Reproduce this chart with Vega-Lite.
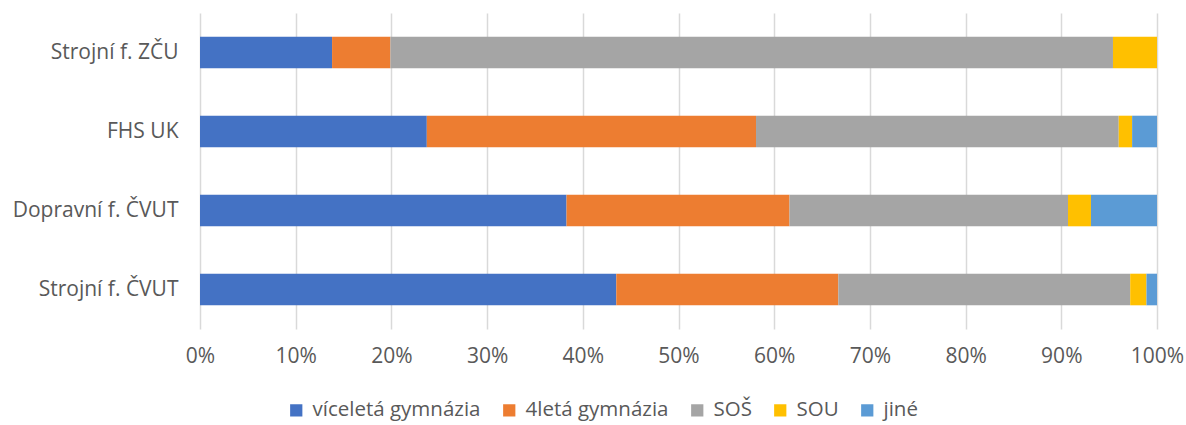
{
  "$schema": "https://vega.github.io/schema/vega-lite/v6.json",
  "width": 957,
  "height": 316,
  "autosize": "none",
  "padding": {"left": 200, "top": 13, "right": 29, "bottom": 96},
  "background": "white",
  "data": {
    "values": [
      {"fakulta": "Strojní f. ZČU", "typ": "víceletá gymnázia", "k": 1, "v": 13.8},
      {"fakulta": "Strojní f. ZČU", "typ": "4letá gymnázia", "k": 2, "v": 6.1},
      {"fakulta": "Strojní f. ZČU", "typ": "SOŠ", "k": 3, "v": 75.5},
      {"fakulta": "Strojní f. ZČU", "typ": "SOU", "k": 4, "v": 4.6},
      {"fakulta": "Strojní f. ZČU", "typ": "jiné", "k": 5, "v": 0},
      {"fakulta": "FHS UK", "typ": "víceletá gymnázia", "k": 1, "v": 23.7},
      {"fakulta": "FHS UK", "typ": "4letá gymnázia", "k": 2, "v": 34.4},
      {"fakulta": "FHS UK", "typ": "SOŠ", "k": 3, "v": 37.9},
      {"fakulta": "FHS UK", "typ": "SOU", "k": 4, "v": 1.4},
      {"fakulta": "FHS UK", "typ": "jiné", "k": 5, "v": 2.6},
      {"fakulta": "Dopravní f. ČVUT", "typ": "víceletá gymnázia", "k": 1, "v": 38.3},
      {"fakulta": "Dopravní f. ČVUT", "typ": "4letá gymnázia", "k": 2, "v": 23.3},
      {"fakulta": "Dopravní f. ČVUT", "typ": "SOŠ", "k": 3, "v": 29.1},
      {"fakulta": "Dopravní f. ČVUT", "typ": "SOU", "k": 4, "v": 2.4},
      {"fakulta": "Dopravní f. ČVUT", "typ": "jiné", "k": 5, "v": 6.9},
      {"fakulta": "Strojní f. ČVUT", "typ": "víceletá gymnázia", "k": 1, "v": 43.5},
      {"fakulta": "Strojní f. ČVUT", "typ": "4letá gymnázia", "k": 2, "v": 23.2},
      {"fakulta": "Strojní f. ČVUT", "typ": "SOŠ", "k": 3, "v": 30.5},
      {"fakulta": "Strojní f. ČVUT", "typ": "SOU", "k": 4, "v": 1.7},
      {"fakulta": "Strojní f. ČVUT", "typ": "jiné", "k": 5, "v": 1.1}
    ]
  },
  "config": {
    "font": "Open Sans",
    "view": {"stroke": null}
  },
  "mark": {"type": "bar"},
  "encoding": {
    "y": {
      "field": "fakulta",
      "type": "nominal",
      "sort": ["Strojní f. ZČU", "FHS UK", "Dopravní f. ČVUT", "Strojní f. ČVUT"],
      "scale": {"paddingInner": 0.6, "paddingOuter": 0.3},
      "axis": {
        "title": null,
        "domain": false,
        "ticks": false,
        "labelFontSize": 21,
        "labelColor": "#595959",
        "labelPadding": 22,
        "labelLimit": 300
      }
    },
    "x": {
      "field": "v",
      "type": "quantitative",
      "stack": "normalize",
      "scale": {"domain": [0, 1]},
      "axis": {
        "title": null,
        "values": [0, 0.1, 0.2, 0.3, 0.4, 0.5, 0.6, 0.7, 0.8, 0.9, 1],
        "format": ".0%",
        "domain": false,
        "ticks": false,
        "grid": true,
        "gridColor": "#d9d9d9",
        "gridWidth": 1.5,
        "labelFontSize": 21,
        "labelColor": "#595959",
        "labelPadding": 16,
        "labelFlush": false
      }
    },
    "color": {
      "field": "typ",
      "type": "nominal",
      "sort": ["víceletá gymnázia", "4letá gymnázia", "SOŠ", "SOU", "jiné"],
      "scale": {
        "domain": ["víceletá gymnázia", "4letá gymnázia", "SOŠ", "SOU", "jiné"],
        "range": ["#4472C4", "#ED7D31", "#A5A5A5", "#FFC000", "#5B9BD5"]
      },
      "legend": {
        "title": null,
        "orient": "none",
        "legendX": 86,
        "legendY": 387,
        "direction": "horizontal",
        "symbolType": "square",
        "symbolSize": 150,
        "symbolStrokeWidth": 0,
        "labelFontSize": 20.5,
        "labelColor": "#595959",
        "labelLimit": 400,
        "columnPadding": 18,
        "labelOffset": 6
      }
    },
    "order": {"field": "k", "type": "quantitative"}
  }
}
